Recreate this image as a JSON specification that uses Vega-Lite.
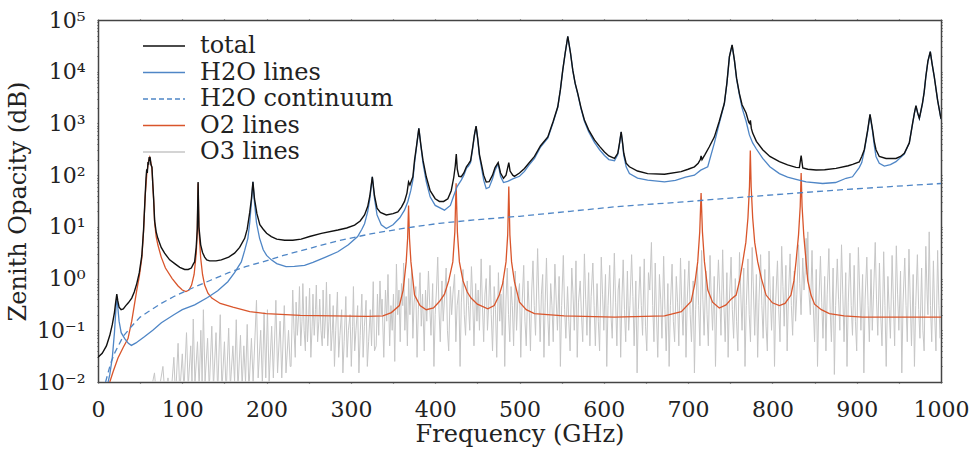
{
"$schema": "https://vega.github.io/schema/vega-lite/v6.json",
"width": 843, "height": 362,
"autosize": {"type": "none"},
"padding": {"left": 98, "top": 20, "right": 34, "bottom": 67},
"background": "white",
"config": {
  "font": "DejaVu Serif",
  "view": {"stroke": null},
  "axis": {"domainColor": "#444", "domainWidth": 1.5, "tickColor": "#444", "tickWidth": 1.2, "labelFont": "DejaVu Serif", "labelFontSize": 22, "labelColor": "#222", "titleFont": "DejaVu Serif", "titleFontSize": 24, "titleFontWeight": "normal", "titleColor": "#222", "grid": false, "zindex": 1}
},
"datasets": {
"o3": [
{"f":60,"v":0.004},{"f":67,"v":0.015},{"f":70,"v":0.004},{"f":77,"v":0.02},{"f":80,"v":0.004},{"f":83,"v":0.012},{"f":86,"v":0.004},{"f":90,"v":0.03},{"f":92,"v":0.005},{"f":95,"v":0.056},{"f":97,"v":0.006},{"f":100,"v":0.035},{"f":102,"v":0.007},{"f":105,"v":0.09},{"f":107,"v":0.008},{"f":110,"v":0.05},{"f":111.5,"v":0.01},{"f":113,"v":0.165},{"f":115,"v":0.009},{"f":118,"v":0.06},{"f":120,"v":0.008},{"f":122,"v":0.1},{"f":123.5,"v":0.01},{"f":125,"v":0.25},{"f":127,"v":0.01},{"f":130,"v":0.07},{"f":132,"v":0.007},{"f":135,"v":0.12},{"f":137,"v":0.008},{"f":140,"v":0.09},{"f":142,"v":0.006},{"f":145,"v":0.2},{"f":147,"v":0.007},{"f":150,"v":0.06},{"f":152,"v":0.006},{"f":155,"v":0.11},{"f":157,"v":0.008},{"f":160,"v":0.05},{"f":162,"v":0.01},{"f":164,"v":0.16},{"f":166,"v":0.007},{"f":169,"v":0.08},{"f":171,"v":0.008},{"f":173,"v":0.05},{"f":175,"v":0.01},{"f":177,"v":0.13},{"f":179,"v":0.007},{"f":182,"v":0.07},{"f":184,"v":0.01},{"f":188,"v":0.38},{"f":190,"v":0.012},{"f":193,"v":0.1},{"f":195,"v":0.009},{"f":197,"v":0.22},{"f":199,"v":0.012},{"f":201,"v":0.25},{"f":203,"v":0.01},{"f":206,"v":0.12},{"f":208,"v":0.012},{"f":211,"v":0.38},{"f":213,"v":0.015},{"f":216,"v":0.15},{"f":218,"v":0.012},{"f":221,"v":0.3},{"f":223,"v":0.015},{"f":226,"v":0.1},{"f":228,"v":0.02},
{"f":229,"v":0.02},{"f":231,"v":0.6},{"f":232.5,"v":0.1},{"f":234,"v":0.03},{"f":235,"v":0.35},{"f":236.5,"v":0.08},{"f":238,"v":0.2},{"f":239,"v":0.7},{"f":240.5,"v":0.05},{"f":242,"v":0.15},{"f":243,"v":0.8},{"f":244.5,"v":0.1},{"f":246,"v":0.04},{"f":247,"v":0.45},{"f":248.5,"v":0.06},{"f":250,"v":0.2},{"f":251,"v":0.65},{"f":252.5,"v":0.03},{"f":254,"v":0.12},{"f":255,"v":0.5},{"f":256.5,"v":0.08},{"f":258,"v":0.25},{"f":259,"v":0.75},{"f":260.5,"v":0.06},{"f":262,"v":0.15},{"f":263,"v":0.4},{"f":264.5,"v":0.1},{"f":266,"v":0.05},{"f":267,"v":0.6},{"f":268.5,"v":0.07},{"f":270,"v":0.2},{"f":271,"v":0.85},{"f":272.5,"v":0.05},{"f":274,"v":0.15},{"f":275,"v":0.5},{"f":276.5,"v":0.04},{"f":278,"v":0.1},{"f":279,"v":0.3},{"f":280.5,"v":0.02},{"f":282,"v":0.1},{"f":284,"v":0.55},{"f":285.5,"v":0.03},{"f":287,"v":0.08},{"f":289,"v":0.25},{"f":290.5,"v":0.015},{"f":292,"v":0.06},{"f":294,"v":0.45},{"f":295.5,"v":0.03},{"f":297,"v":0.1},{"f":299,"v":0.2},{"f":300.5,"v":0.02},{"f":302,"v":0.12},{"f":303,"v":0.7},{"f":304.5,"v":0.04},{"f":306,"v":0.1},{"f":308,"v":0.3},{"f":309.5,"v":0.015},{"f":311,"v":0.08},{"f":313,"v":0.5},{"f":314.5,"v":0.03},{"f":316,"v":0.12},{"f":318,"v":0.38},{"f":319.5,"v":0.02},{"f":321,"v":0.06},{"f":323,"v":0.25},{"f":324.5,"v":0.05},{"f":326.5,"v":0.87},{"f":328,"v":0.04},
{"f":330,"v":0.05},{"f":331.5,"v":0.5},{"f":333,"v":0.08},{"f":334.5,"v":0.9},{"f":336,"v":0.2},{"f":337,"v":0.4},{"f":339,"v":0.03},{"f":341,"v":0.6},{"f":342.5,"v":0.15},{"f":344,"v":1.2},{"f":346,"v":0.05},{"f":347.5,"v":0.3},{"f":349,"v":0.1},{"f":350.5,"v":0.5},{"f":352,"v":0.025},{"f":354,"v":1.9},{"f":355.5,"v":0.2},{"f":357,"v":0.6},{"f":358.5,"v":0.06},{"f":360,"v":0.8},{"f":361.5,"v":0.3},{"f":362.5,"v":2.0},{"f":364,"v":0.1},{"f":365.5,"v":0.45},{"f":367,"v":0.05},{"f":368.5,"v":1.0},{"f":370,"v":0.2},{"f":372,"v":1.5},{"f":373.5,"v":0.07},{"f":375,"v":0.35},{"f":377,"v":0.7},{"f":378.5,"v":0.03},{"f":380,"v":0.25},{"f":382,"v":1.3},{"f":383.5,"v":0.12},{"f":385,"v":0.5},{"f":387,"v":0.04},{"f":388.5,"v":0.6},{"f":390,"v":0.15},{"f":392,"v":1.4},{"f":393.5,"v":0.3},{"f":395,"v":0.08},{"f":397,"v":0.8},{"f":398.5,"v":0.02},{"f":400,"v":0.2},{"f":401.5,"v":0.6},{"f":403,"v":2.6},{"f":404.5,"v":0.25},{"f":406,"v":0.06},{"f":408,"v":0.9},{"f":409.5,"v":0.15},{"f":411,"v":0.4},{"f":413,"v":1.6},{"f":414.5,"v":0.1},{"f":416,"v":0.04},{"f":418,"v":0.7},{"f":419.5,"v":0.2},{"f":421,"v":0.5},{"f":423,"v":1.2},{"f":424.5,"v":0.06},{"f":426,"v":0.3},{"f":428,"v":0.6},{"f":429.5,"v":0.02},{"f":431,"v":0.35},{"f":433,"v":1.5},{"f":434.5,"v":0.2},{"f":436,"v":0.08},{"f":438,"v":0.9},{"f":439.5,"v":0.3},{"f":441,"v":0.1},{"f":443,"v":1.7},{"f":444.5,"v":0.4},{"f":446,"v":0.05},{"f":448,"v":0.8},{"f":449.5,"v":0.15},{"f":451,"v":0.6},{"f":452.5,"v":0.1},{"f":454.5,"v":2.4},{"f":456,"v":0.3},{"f":457.5,"v":0.06},{"f":459,"v":0.5},{"f":460.5,"v":1.0},{"f":462,"v":0.1},{"f":463.5,"v":0.3},{"f":465,"v":1.8},{"f":466.5,"v":0.2},{"f":468,"v":0.04},{"f":470,"v":0.7},{"f":471.5,"v":0.25},{"f":473,"v":0.03},{"f":475,"v":1.3},{"f":476.5,"v":0.15},{"f":478,"v":0.5},{"f":479.5,"v":0.08},{"f":481,"v":0.9},{"f":482.5,"v":0.02},{"f":484,"v":0.4},{"f":485.5,"v":1.6},{"f":487,"v":0.2},{"f":488.5,"v":0.06},{"f":490,"v":0.7},{"f":491.5,"v":0.3},{"f":493,"v":0.05},{"f":495,"v":1.4},{"f":496.5,"v":0.1},{"f":498,"v":0.4},{"f":500,"v":0.8},{"f":501.5,"v":0.03},
{"f":503,"v":0.3},{"f":505,"v":1.8},{"f":506.5,"v":0.15},{"f":508,"v":0.05},{"f":510,"v":0.9},{"f":511.5,"v":0.25},{"f":513,"v":0.04},{"f":514.5,"v":0.6},{"f":516,"v":2.2},{"f":517.5,"v":0.3},{"f":519,"v":0.08},{"f":521.5,"v":3.8},{"f":523,"v":0.4},{"f":524.5,"v":0.06},{"f":526,"v":0.5},{"f":527.5,"v":1.2},{"f":529,"v":0.03},{"f":530.5,"v":0.35},{"f":532,"v":2.5},{"f":533.5,"v":0.2},{"f":535,"v":0.05},{"f":537,"v":0.8},{"f":538.5,"v":0.3},{"f":540,"v":0.06},{"f":542,"v":1.9},{"f":543.5,"v":0.4},{"f":545,"v":0.1},{"f":547,"v":1.1},{"f":548.5,"v":0.02},{"f":550,"v":0.3},{"f":552,"v":2.8},{"f":553.5,"v":0.25},{"f":555,"v":0.07},{"f":557,"v":0.7},{"f":558.5,"v":0.15},{"f":560,"v":0.04},{"f":562,"v":1.6},{"f":563.5,"v":0.5},{"f":565,"v":0.1},{"f":567,"v":2.2},{"f":568.5,"v":0.03},{"f":570,"v":0.35},{"f":572,"v":0.9},{"f":573.5,"v":0.2},{"f":575,"v":0.06},{"f":577,"v":3.0},{"f":578.5,"v":0.4},{"f":580,"v":0.08},{"f":582,"v":1.3},{"f":583.5,"v":0.05},{"f":585,"v":0.45},{"f":587,"v":2.0},{"f":588.5,"v":0.3},{"f":590,"v":0.05},{"f":592,"v":0.8},{"f":593.5,"v":0.15},{"f":595,"v":0.04},{"f":597,"v":2.6},{"f":598.5,"v":0.5},{"f":600,"v":0.1},{"f":602,"v":1.2},{"f":603.5,"v":0.02},{"f":605,"v":0.3},{"f":607,"v":1.8},{"f":608.5,"v":0.2},{"f":610,"v":0.07},{"f":612.5,"v":3.1},{"f":614,"v":0.35},{"f":615.5,"v":0.05},{"f":617,"v":0.6},{"f":618.5,"v":1.0},{"f":620,"v":0.03},{"f":621.5,"v":0.4},{"f":623,"v":2.3},{"f":624.5,"v":0.25},{"f":626,"v":0.06},{"f":628,"v":1.4},{"f":629.5,"v":0.1},{"f":631,"v":0.3},{"f":633,"v":2.9},{"f":634.5,"v":0.45},{"f":636,"v":0.05},{"f":638,"v":0.9},{"f":639.5,"v":0.015},{"f":641,"v":0.25},{"f":643,"v":1.7},{"f":644.5,"v":0.3},{"f":646,"v":0.08},{"f":648,"v":2.4},{"f":649.5,"v":0.12},{"f":651,"v":0.04},{"f":653,"v":1.3},{"f":654.5,"v":0.6},{"f":656.5,"v":5.0},{"f":658,"v":0.3},{"f":659.5,"v":0.06},{"f":661,"v":2.0},{"f":662.5,"v":0.2},{"f":664,"v":0.03},{"f":666,"v":1.2},{"f":667.5,"v":0.4},{"f":669,"v":0.07},{"f":671,"v":2.7},{"f":672.5,"v":0.25},{"f":674,"v":0.04},{"f":676,"v":0.8},{"f":677.5,"v":0.02},{"f":679,"v":0.3},{"f":681,"v":1.9},{"f":682.5,"v":0.15},{"f":684,"v":0.06},{"f":686,"v":1.1},{"f":687.5,"v":0.35},{"f":689,"v":0.05},{"f":691,"v":2.5},{"f":692.5,"v":0.3},{"f":694,"v":0.08},{"f":696,"v":1.5},{"f":697.5,"v":0.03},{"f":699,"v":0.4},{"f":701,"v":2.2},{"f":702.5,"v":0.2},{"f":704,"v":0.06},{"f":706,"v":0.9},{"f":707.5,"v":0.015},{"f":709,"v":0.25},{"f":711,"v":1.7},{"f":712.5,"v":0.3},{"f":714,"v":0.05},{"f":716,"v":3.5},{"f":717.5,"v":0.4},{"f":719,"v":0.08},
{"f":721,"v":1.4},{"f":722.5,"v":0.2},{"f":724,"v":0.05},{"f":726,"v":2.8},{"f":727.5,"v":0.4},{"f":729,"v":0.1},{"f":731,"v":1.1},{"f":732.5,"v":0.02},{"f":734,"v":0.3},{"f":736,"v":2.3},{"f":737.5,"v":0.5},{"f":739,"v":0.08},{"f":741,"v":3.6},{"f":742.5,"v":0.3},{"f":744,"v":0.06},{"f":746,"v":1.3},{"f":747.5,"v":0.03},{"f":749,"v":0.4},{"f":751,"v":2.6},{"f":752.5,"v":0.25},{"f":754,"v":0.07},{"f":756,"v":1.0},{"f":757.5,"v":0.15},{"f":759,"v":0.04},{"f":761,"v":3.2},{"f":762.5,"v":0.5},{"f":764,"v":0.1},{"f":766,"v":1.6},{"f":767.5,"v":0.02},{"f":769,"v":0.3},{"f":771,"v":2.4},{"f":772.5,"v":0.2},{"f":774,"v":0.06},{"f":776,"v":4.0},{"f":777.5,"v":0.6},{"f":779,"v":0.08},{"f":781,"v":1.2},{"f":782.5,"v":0.03},{"f":784,"v":0.35},{"f":786,"v":2.9},{"f":787.5,"v":0.3},{"f":789,"v":0.07},{"f":791,"v":1.5},{"f":792.5,"v":0.12},{"f":794,"v":0.04},{"f":796,"v":3.4},{"f":797.5,"v":0.5},{"f":799,"v":0.1},{"f":801,"v":1.1},{"f":802.5,"v":0.02},{"f":804,"v":0.4},{"f":806,"v":2.2},{"f":807.5,"v":0.25},{"f":809,"v":0.06},{"f":811,"v":4.2},{"f":812.5,"v":0.7},{"f":814,"v":0.12},{"f":816,"v":1.8},{"f":817.5,"v":0.04},{"f":819,"v":0.45},{"f":821,"v":3.0},{"f":822.5,"v":0.3},{"f":824,"v":0.08},{"f":826,"v":1.4},{"f":827.5,"v":0.15},{"f":829,"v":0.5},{"f":831,"v":4.5},{"f":832.5,"v":0.8},{"f":834,"v":0.2},{"f":836,"v":2.5},{"f":837.5,"v":0.6},{"f":839,"v":1.5},{"f":840,"v":6.0},{"f":841,"v":1.2},{"f":842,"v":8.0},{"f":843.5,"v":0.5},{"f":845,"v":0.2},{"f":847,"v":3.5},{"f":848.5,"v":0.3},{"f":850,"v":0.06},{"f":852,"v":1.5},{"f":853.5,"v":0.02},{"f":855,"v":0.3},{"f":857,"v":2.7},{"f":858.5,"v":0.35},{"f":860,"v":0.07},{"f":862,"v":1.1},{"f":863.5,"v":0.04},{"f":865,"v":0.5},{"f":867,"v":3.8},{"f":868.5,"v":0.25},{"f":870,"v":0.06},{"f":872,"v":1.6},{"f":873.5,"v":0.014},{"f":875,"v":0.3},{"f":877,"v":2.4},{"f":878.5,"v":0.4},{"f":880,"v":0.1},{"f":882,"v":4.5},{"f":883.5,"v":0.5},{"f":885,"v":0.06},{"f":887,"v":1.3},{"f":888.5,"v":0.02},{"f":890,"v":0.35},{"f":892,"v":3.1},{"f":893.5,"v":0.3},{"f":895,"v":0.08},{"f":897,"v":1.8},{"f":898.5,"v":0.15},{"f":900,"v":0.04},{"f":902,"v":4.0},{"f":903.5,"v":0.6},{"f":905,"v":0.1},{"f":907,"v":1.2},{"f":908.5,"v":0.015},{"f":910,"v":0.4},{"f":912,"v":2.6},{"f":913.5,"v":0.3},{"f":915,"v":0.06},{"f":917,"v":1.5},{"f":918.5,"v":0.1},{"f":920,"v":0.5},{"f":922,"v":5.0},{"f":923.5,"v":0.4},{"f":925,"v":0.08},{"f":927,"v":2.0},{"f":928.5,"v":0.2},{"f":930,"v":0.05},{"f":932,"v":3.3},{"f":933.5,"v":0.3},{"f":935,"v":0.02},{"f":937,"v":1.1},{"f":938.5,"v":0.25},{"f":940,"v":0.07},{"f":942,"v":2.8},{"f":943.5,"v":0.4},{"f":945,"v":0.05},{"f":947,"v":4.3},{"f":948.5,"v":0.5},{"f":950,"v":0.1},{"f":952,"v":1.4},{"f":953.5,"v":0.015},{"f":955,"v":0.35},{"f":957,"v":2.5},{"f":958.5,"v":0.3},{"f":960,"v":0.06},{"f":962,"v":3.7},{"f":963.5,"v":0.4},{"f":965,"v":0.05},{"f":967,"v":1.2},{"f":968.5,"v":0.02},{"f":970,"v":0.3},{"f":972,"v":2.9},{"f":973.5,"v":0.25},{"f":975,"v":0.07},{"f":977,"v":1.6},{"f":978.5,"v":0.1},{"f":980,"v":0.04},{"f":982,"v":4.2},{"f":983.5,"v":0.5},{"f":984.5,"v":0.2},{"f":986,"v":8.0},{"f":987.5,"v":0.3},{"f":989,"v":0.06},{"f":991,"v":2.2},{"f":992.5,"v":0.2},{"f":994,"v":0.04},{"f":996,"v":3.5},{"f":997.5,"v":0.3},{"f":999,"v":0.07},{"f":1000,"v":0.5}
],
"o2": [
{"f":10,"v":0.006},{"f":14,"v":0.01},{"f":18,"v":0.016},{"f":23.7,"v":0.029},{"f":30,"v":0.047},{"f":35.6,"v":0.069},{"f":40,"v":0.15},{"f":43,"v":0.3},{"f":46,"v":0.6},{"f":49,"v":1.1},{"f":52,"v":2.5},{"f":54,"v":8},{"f":56,"v":40},{"f":58,"v":110},{"f":60,"v":190},{"f":61.3,"v":220},{"f":62.5,"v":180},{"f":64,"v":135},{"f":65,"v":65},{"f":66,"v":33},{"f":67.2,"v":12},{"f":69,"v":6.5},{"f":71,"v":4.5},{"f":75,"v":2.6},{"f":80,"v":1.6},{"f":88,"v":1.0},{"f":95,"v":0.72},{"f":100,"v":0.6},{"f":104.3,"v":0.56},{"f":108,"v":0.6},{"f":111,"v":0.75},{"f":114,"v":1.2},{"f":116.5,"v":3},{"f":117.8,"v":8.5},{"f":118.75,"v":70},{"f":119.7,"v":9},{"f":121.8,"v":2.5},{"f":124,"v":1.2},{"f":126.5,"v":0.75},{"f":130.4,"v":0.52},{"f":135,"v":0.42},{"f":145,"v":0.33},{"f":160,"v":0.28},{"f":180,"v":0.23},{"f":199.6,"v":0.21},{"f":240,"v":0.195},{"f":278.6,"v":0.19},{"f":320,"v":0.185},{"f":338,"v":0.19},{"f":348,"v":0.22},{"f":357.5,"v":0.3},{"f":362,"v":0.6},{"f":365.6,"v":2.1},{"f":367.3,"v":6},{"f":368.4,"v":26},{"f":369.5,"v":6},{"f":371.2,"v":2.1},{"f":375.5,"v":0.48},{"f":382,"v":0.3},{"f":389.4,"v":0.25},{"f":398,"v":0.27},{"f":405,"v":0.36},{"f":411,"v":0.5},{"f":416,"v":0.9},{"f":420.9,"v":2.1},{"f":423.3,"v":8},{"f":424.8,"v":70},{"f":426.3,"v":8},{"f":428.7,"v":2.1},{"f":433,"v":0.9},{"f":438,"v":0.55},{"f":442.5,"v":0.42},{"f":450,"v":0.32},{"f":462.4,"v":0.26},{"f":470,"v":0.3},{"f":476,"v":0.48},{"f":480,"v":0.8},{"f":484,"v":2.1},{"f":486,"v":7},{"f":487.3,"v":60},{"f":488.6,"v":7},{"f":490.6,"v":2.1},{"f":494,"v":0.87},{"f":500,"v":0.35},{"f":508,"v":0.25},{"f":517.7,"v":0.21},{"f":553,"v":0.19},{"f":612.6,"v":0.18},{"f":672,"v":0.19},{"f":692,"v":0.23},{"f":703.5,"v":0.36},{"f":708,"v":0.8},{"f":711.4,"v":2.1},{"f":713.8,"v":8},{"f":715.4,"v":45},{"f":717,"v":8},{"f":719.4,"v":2.1},{"f":723.4,"v":0.6},{"f":729,"v":0.35},{"f":737,"v":0.27},{"f":745,"v":0.31},{"f":751,"v":0.4},{"f":757,"v":0.48},{"f":761,"v":0.9},{"f":764.8,"v":2.1},{"f":768.5,"v":5},{"f":771,"v":15},{"f":772.8,"v":60},{"f":773.8,"v":300},{"f":774.8,"v":60},{"f":776.6,"v":15},{"f":779,"v":5},{"f":782.6,"v":2.1},{"f":787,"v":1.0},{"f":792.5,"v":0.48},{"f":800,"v":0.34},{"f":808.3,"v":0.3},{"f":815,"v":0.33},{"f":822,"v":0.48},{"f":825.5,"v":0.9},{"f":828,"v":2.1},{"f":831,"v":7},{"f":833,"v":25},{"f":834.1,"v":110},{"f":835.2,"v":25},{"f":837.2,"v":7},{"f":840,"v":2.1},{"f":842,"v":0.9},{"f":845.8,"v":0.48},{"f":850,"v":0.32},{"f":858,"v":0.25},{"f":867.6,"v":0.21},{"f":885,"v":0.19},{"f":907,"v":0.18},{"f":1000,"v":0.18}
],
"cont": [
{"f":9,"v":0.01},{"f":15,"v":0.023},{"f":20,"v":0.037},{"f":30,"v":0.077},{"f":40,"v":0.12},{"f":50,"v":0.18},{"f":60,"v":0.23},{"f":75,"v":0.33},{"f":90,"v":0.45},{"f":115,"v":0.69},{"f":135,"v":0.95},{"f":155,"v":1.3},{"f":175,"v":1.7},{"f":195,"v":2.1},{"f":220,"v":2.8},{"f":250,"v":3.8},{"f":285,"v":5.4},{"f":325,"v":7.4},{"f":365,"v":9.5},{"f":405,"v":11.7},{"f":450,"v":13.8},{"f":500,"v":16},{"f":560,"v":20},{"f":620,"v":25},{"f":690,"v":30},{"f":750,"v":36},{"f":820,"v":44},{"f":880,"v":52},{"f":940,"v":60},{"f":1000,"v":69}
],
"h2o": [
{"f":5,"v":0.004},{"f":10,"v":0.007},{"f":14,"v":0.014},{"f":17,"v":0.03},{"f":19.5,"v":0.09},{"f":21,"v":0.22},{"f":22.3,"v":0.45},{"f":23.5,"v":0.28},{"f":25,"v":0.15},{"f":27.5,"v":0.09},{"f":31.7,"v":0.069},{"f":36,"v":0.056},{"f":39.6,"v":0.051},{"f":45,"v":0.057},{"f":55,"v":0.075},{"f":65,"v":0.1},{"f":75.2,"v":0.14},{"f":90,"v":0.2},{"f":100,"v":0.25},{"f":114.7,"v":0.31},{"f":130,"v":0.43},{"f":142,"v":0.58},{"f":154,"v":0.87},{"f":162,"v":1.3},{"f":170,"v":2.1},{"f":174,"v":3.5},{"f":177.8,"v":6},{"f":180,"v":12},{"f":182,"v":30},{"f":183.8,"v":74},{"f":185.6,"v":30},{"f":188,"v":12},{"f":191.7,"v":6},{"f":196,"v":3.6},{"f":200,"v":2.8},{"f":205.6,"v":2.3},{"f":212,"v":1.95},{"f":223,"v":1.7},{"f":233,"v":1.72},{"f":245,"v":1.8},{"f":255,"v":2.05},{"f":270,"v":2.6},{"f":284.5,"v":3.3},{"f":297,"v":4.5},{"f":308,"v":6.5},{"f":313,"v":9},{"f":316.2,"v":11.5},{"f":320,"v":20},{"f":322.5,"v":35},{"f":325.4,"v":93},{"f":328,"v":35},{"f":331,"v":17},{"f":336,"v":11},{"f":342,"v":9.3},{"f":350,"v":11},{"f":358,"v":15},{"f":363.6,"v":21},{"f":367.6,"v":31},{"f":371,"v":50},{"f":373.5,"v":80},{"f":375.5,"v":170},{"f":378,"v":370},{"f":380.6,"v":800},{"f":383,"v":370},{"f":385.5,"v":170},{"f":389.4,"v":75},{"f":394,"v":38},{"f":400,"v":26},{"f":411,"v":21},{"f":418,"v":26},{"f":422,"v":40},{"f":426,"v":60},{"f":430.9,"v":80},{"f":434,"v":100},{"f":437,"v":135},{"f":439.5,"v":150},{"f":442,"v":175},{"f":444.5,"v":330},{"f":446.5,"v":580},{"f":448.5,"v":880},{"f":450.5,"v":480},{"f":452.5,"v":230},{"f":454.6,"v":150},{"f":457.5,"v":80},{"f":460.5,"v":55},{"f":464,"v":58},{"f":468,"v":85},{"f":471,"v":125},{"f":474.7,"v":165},{"f":477.5,"v":95},{"f":481,"v":72},{"f":486,"v":76},{"f":492,"v":85},{"f":500,"v":95},{"f":505.9,"v":118},{"f":511,"v":155},{"f":517.8,"v":210},{"f":525,"v":350},{"f":533.6,"v":520},{"f":540,"v":1050},{"f":545.4,"v":2050},{"f":548.5,"v":4450},{"f":551.3,"v":10600},{"f":554.2,"v":22800},{"f":557.3,"v":47500},{"f":560.5,"v":22800},{"f":563.2,"v":10600},{"f":566,"v":5900},{"f":569.1,"v":3700},{"f":573,"v":1920},{"f":577,"v":1100},{"f":582,"v":690},{"f":588.9,"v":430},{"f":595,"v":310},{"f":600.8,"v":240},{"f":606,"v":200},{"f":612.7,"v":190},{"f":616.6,"v":250},{"f":618.7,"v":410},{"f":620.6,"v":680},{"f":622.3,"v":400},{"f":623.7,"v":240},{"f":626.5,"v":145},{"f":630.4,"v":107},{"f":640,"v":88},{"f":652,"v":80},{"f":672,"v":74},{"f":685,"v":79},{"f":697,"v":92},{"f":707.5,"v":100},{"f":715,"v":125},{"f":723.3,"v":145},{"f":731.2,"v":420},{"f":737,"v":1000},{"f":743,"v":2400},{"f":746,"v":5900},{"f":749,"v":19300},{"f":752.2,"v":32800},{"f":754.9,"v":16800},{"f":757.5,"v":7300},{"f":760.8,"v":3600},{"f":764,"v":2000},{"f":768.8,"v":1100},{"f":772.7,"v":600},{"f":776.6,"v":420},{"f":781,"v":320},{"f":788.5,"v":210},{"f":797,"v":145},{"f":808.3,"v":107},{"f":818,"v":92},{"f":828,"v":83},{"f":840,"v":74},{"f":859.6,"v":69},{"f":875,"v":72},{"f":887.4,"v":87},{"f":895,"v":93},{"f":903,"v":140},{"f":906,"v":175},{"f":909,"v":290},{"f":913,"v":700},{"f":915.8,"v":1480},{"f":918.9,"v":680},{"f":920.8,"v":380},{"f":922.9,"v":230},{"f":926.8,"v":170},{"f":932.8,"v":150},{"f":940,"v":160},{"f":946.6,"v":182},{"f":952,"v":220},{"f":956.5,"v":255},{"f":962.4,"v":420},{"f":966.3,"v":990},{"f":968.5,"v":1590},{"f":970.3,"v":2190},{"f":972.3,"v":1580},{"f":974.3,"v":1240},{"f":976,"v":1680},{"f":978,"v":2430},{"f":980,"v":3980},{"f":982,"v":7980},{"f":984.5,"v":15980},{"f":987.3,"v":24480},{"f":989.5,"v":13980},{"f":992,"v":7980},{"f":996,"v":2780},{"f":1000,"v":1210}
],
"total": [
{"f":0,"v":0.03},{"f":5,"v":0.036},{"f":10,"v":0.05},{"f":14,"v":0.08},{"f":17,"v":0.13},{"f":19.5,"v":0.22},{"f":21,"v":0.35},{"f":22.3,"v":0.5},{"f":23.5,"v":0.37},{"f":25,"v":0.28},{"f":27.4,"v":0.25},{"f":30,"v":0.26},{"f":33,"v":0.3},{"f":36,"v":0.34},{"f":40,"v":0.42},{"f":43,"v":0.55},{"f":46,"v":0.8},{"f":49,"v":1.3},{"f":52,"v":2.8},{"f":54,"v":8.5},{"f":56,"v":42},{"f":57,"v":90},{"f":57.8,"v":130},{"f":58.5,"v":110},{"f":59.3,"v":180},{"f":60,"v":160},{"f":60.7,"v":225},{"f":61.3,"v":200},{"f":62,"v":210},{"f":62.8,"v":160},{"f":64,"v":142},{"f":65,"v":68},{"f":66,"v":35},{"f":67.2,"v":13},{"f":69,"v":8},{"f":71,"v":6},{"f":75,"v":4},{"f":79,"v":3.1},{"f":85,"v":2.3},{"f":91,"v":1.95},{"f":97,"v":1.65},{"f":102.8,"v":1.5},{"f":107,"v":1.5},{"f":110.7,"v":1.6},{"f":113,"v":1.9},{"f":114.6,"v":2.1},{"f":116.5,"v":4},{"f":117.8,"v":9.3},{"f":118.75,"v":74},{"f":119.7,"v":10},{"f":121.8,"v":4.5},{"f":124,"v":3.2},{"f":126.5,"v":2.6},{"f":129,"v":2.3},{"f":132.4,"v":2.2},{"f":140,"v":2.2},{"f":146.3,"v":2.3},{"f":155,"v":2.6},{"f":162,"v":3.1},{"f":168,"v":4},{"f":174,"v":6},{"f":177,"v":9},{"f":180,"v":19},{"f":182,"v":35},{"f":183.8,"v":74},{"f":185.6,"v":35},{"f":188.5,"v":18},{"f":192,"v":11},{"f":196,"v":9},{"f":200,"v":7.5},{"f":205.6,"v":6.5},{"f":212,"v":5.8},{"f":221.4,"v":5.5},{"f":231,"v":5.5},{"f":241,"v":5.8},{"f":251,"v":6.5},{"f":265,"v":7.5},{"f":284.6,"v":8.7},{"f":295,"v":9.5},{"f":304.4,"v":10.8},{"f":311,"v":13},{"f":316.2,"v":17},{"f":320,"v":25},{"f":322.5,"v":40},{"f":325.4,"v":93},{"f":328,"v":40},{"f":331,"v":23},{"f":335,"v":19},{"f":342,"v":17},{"f":350,"v":18},{"f":355.7,"v":19.5},{"f":360,"v":24},{"f":363.6,"v":31},{"f":366.5,"v":45},{"f":368.4,"v":74},{"f":370,"v":65},{"f":373.5,"v":93},{"f":375.5,"v":195},{"f":378,"v":380},{"f":380.6,"v":800},{"f":383,"v":380},{"f":385.5,"v":195},{"f":389.4,"v":93},{"f":394,"v":50},{"f":400,"v":35},{"f":405,"v":31},{"f":410,"v":31},{"f":415,"v":35},{"f":419,"v":50},{"f":422,"v":90},{"f":423.8,"v":150},{"f":425,"v":255},{"f":426.2,"v":130},{"f":428,"v":95},{"f":430.9,"v":93},{"f":434,"v":110},{"f":437,"v":145},{"f":439.5,"v":165},{"f":442,"v":190},{"f":444.5,"v":350},{"f":446.5,"v":600},{"f":448.5,"v":890},{"f":450.5,"v":500},{"f":452.5,"v":250},{"f":454.6,"v":170},{"f":457.5,"v":100},{"f":460.5,"v":74},{"f":464,"v":75},{"f":468,"v":100},{"f":471,"v":140},{"f":474.7,"v":175},{"f":477.5,"v":110},{"f":481,"v":87},{"f":484,"v":100},{"f":486,"v":140},{"f":487.3,"v":175},{"f":488.8,"v":120},{"f":492,"v":100},{"f":494,"v":95},{"f":500,"v":110},{"f":505.9,"v":135},{"f":511,"v":170},{"f":517.8,"v":230},{"f":525,"v":370},{"f":533.6,"v":550},{"f":540,"v":1100},{"f":545.4,"v":2100},{"f":548.5,"v":4500},{"f":551.3,"v":10700},{"f":554.2,"v":23000},{"f":557.3,"v":48000},{"f":560.5,"v":23000},{"f":563.2,"v":10700},{"f":566,"v":6000},{"f":569.1,"v":3800},{"f":573,"v":2000},{"f":577,"v":1170},{"f":582,"v":750},{"f":588.9,"v":480},{"f":595,"v":360},{"f":600.8,"v":280},{"f":606,"v":235},{"f":612.7,"v":210},{"f":616.6,"v":265},{"f":618.7,"v":420},{"f":620.6,"v":690},{"f":622.3,"v":420},{"f":623.7,"v":265},{"f":626.5,"v":170},{"f":630.4,"v":145},{"f":640,"v":120},{"f":652,"v":107},{"f":672,"v":104},{"f":691.7,"v":117},{"f":700,"v":130},{"f":707.5,"v":145},{"f":712,"v":170},{"f":714.5,"v":200},{"f":715.4,"v":235},{"f":716.5,"v":200},{"f":720,"v":250},{"f":725,"v":350},{"f":731.2,"v":550},{"f":737,"v":1100},{"f":743,"v":2450},{"f":746,"v":6000},{"f":749,"v":19500},{"f":752.2,"v":33000},{"f":754.9,"v":17000},{"f":757.5,"v":7500},{"f":760.8,"v":3800},{"f":764,"v":2300},{"f":768.8,"v":1590},{"f":772,"v":1050},{"f":773,"v":1000},{"f":773.9,"v":1150},{"f":775,"v":800},{"f":776.6,"v":650},{"f":781,"v":450},{"f":788.5,"v":310},{"f":797,"v":230},{"f":808.3,"v":182},{"f":818,"v":158},{"f":828,"v":141},{"f":832,"v":140},{"f":834.1,"v":240},{"f":836,"v":138},{"f":842,"v":130},{"f":851.8,"v":126},{"f":862,"v":127},{"f":875.5,"v":135},{"f":890,"v":152},{"f":895.2,"v":162},{"f":903,"v":180},{"f":906,"v":230},{"f":909,"v":310},{"f":913,"v":740},{"f":915.8,"v":1500},{"f":918.9,"v":740},{"f":920.8,"v":450},{"f":922.9,"v":310},{"f":926.8,"v":230},{"f":934.8,"v":210},{"f":946.6,"v":210},{"f":952,"v":230},{"f":956.5,"v":265},{"f":962.4,"v":420},{"f":966.3,"v":1000},{"f":968.5,"v":1600},{"f":970.3,"v":2200},{"f":972.3,"v":1600},{"f":974.3,"v":1260},{"f":976,"v":1700},{"f":978,"v":2450},{"f":980,"v":4000},{"f":982,"v":8000},{"f":984.5,"v":16000},{"f":987.3,"v":24500},{"f":989.5,"v":14000},{"f":992,"v":8000},{"f":996,"v":2800},{"f":1000,"v":1230}
]
},
"layer": [
{
  "data": {"name": "o3"},
  "mark": {"type": "line", "clip": true, "strokeWidth": 1},
  "encoding": {
    "x": {"field": "f", "type": "quantitative", "scale": {"domain": [0, 1000], "nice": false, "zero": false},
      "axis": {"orient": "bottom", "title": "Frequency (GHz)", "values": [0,50,100,150,200,250,300,350,400,450,500,550,600,650,700,750,800,850,900,950,1000], "labelExpr": "datum.value % 100 === 0 ? datum.label : ''", "format": "d", "tickSize": 1, "labelPadding": 16, "titlePadding": 2, "labelFlush": false, "labelOverlap": false,
        "encode": {"ticks": {"update": {"y2": {"value": -8}}}}}},
    "y": {"field": "v", "type": "quantitative", "scale": {"type": "log", "domain": [0.01, 100000], "nice": false},
      "axis": {"orient": "left", "title": "Zenith Opacity (dB)", "titlePadding": 6,
        "values": [0.01,0.02,0.03,0.04,0.05,0.06,0.07,0.08,0.09,0.1,0.2,0.3,0.4,0.5,0.6,0.7,0.8,0.9,1,2,3,4,5,6,7,8,9,10,20,30,40,50,60,70,80,90,100,200,300,400,500,600,700,800,900,1000,2000,3000,4000,5000,6000,7000,8000,9000,10000,20000,30000,40000,50000,60000,70000,80000,90000,100000],
        "labelExpr": "abs(log(datum.value)/LN10 - round(log(datum.value)/LN10)) < 0.001 ? ['10⁻²','10⁻¹','10⁰','10¹','10²','10³','10⁴','10⁵'][round(log(datum.value)/LN10)+2] : ''",
        "tickSize": 1, "labelPadding": 12, "labelFlush": false, "labelOverlap": false,
        "encode": {"ticks": {"update": {"x2": {"signal": "abs(log(datum.value)/LN10 - round(log(datum.value)/LN10)) < 0.001 ? 10 : 5"}}}}}},
    "color": {"datum": "O3 lines", "type": "nominal",
      "scale": {"domain": ["total", "H2O lines", "H2O continuum", "O2 lines", "O3 lines"], "range": ["#111111", "#4f86c6", "#4f86c6", "#d9552b", "#c6c6c6"]},
      "legend": {"orient": "none", "legendX": 54, "legendY": 14, "title": null, "symbolType": "M-3,0L3,0", "symbolSize": 196, "symbolStrokeWidth": 1.5, "labelFont": "DejaVu Serif", "labelFontSize": 24, "labelColor": "#222", "labelOffset": 24, "rowPadding": 2.5, "padding": 0, "labelLimit": 400,
        "encode": {"symbols": {"update": {"strokeDash": {"signal": "datum.value === 'H2O continuum' ? [5,3] : [1,0]"}}}}}}
  }
},
{
  "data": {"name": "o2"},
  "mark": {"type": "line", "clip": true, "strokeWidth": 1.3},
  "encoding": {
    "x": {"field": "f", "type": "quantitative", "axis": {"orient": "top", "title": null, "labels": false, "values": [0,50,100,150,200,250,300,350,400,450,500,550,600,650,700,750,800,850,900,950,1000], "tickSize": 1,
        "encode": {"ticks": {"update": {"y2": {"value": 8}}}}}},
    "y": {"field": "v", "type": "quantitative", "axis": {"orient": "right", "title": null, "labels": false,
        "values": [0.01,0.02,0.03,0.04,0.05,0.06,0.07,0.08,0.09,0.1,0.2,0.3,0.4,0.5,0.6,0.7,0.8,0.9,1,2,3,4,5,6,7,8,9,10,20,30,40,50,60,70,80,90,100,200,300,400,500,600,700,800,900,1000,2000,3000,4000,5000,6000,7000,8000,9000,10000,20000,30000,40000,50000,60000,70000,80000,90000,100000],
        "tickSize": 1,
        "encode": {"ticks": {"update": {"x2": {"signal": "abs(log(datum.value)/LN10 - round(log(datum.value)/LN10)) < 0.001 ? -10 : -5"}}}}}},
    "color": {"datum": "O2 lines", "type": "nominal"}
  }
},
{
  "data": {"name": "cont"},
  "mark": {"type": "line", "clip": true, "strokeWidth": 1.3, "strokeDash": [6, 4]},
  "encoding": {
    "x": {"field": "f", "type": "quantitative", "axis": null},
    "y": {"field": "v", "type": "quantitative", "axis": null},
    "color": {"datum": "H2O continuum", "type": "nominal"}
  }
},
{
  "data": {"name": "h2o"},
  "mark": {"type": "line", "clip": true, "strokeWidth": 1.3},
  "encoding": {
    "x": {"field": "f", "type": "quantitative", "axis": null},
    "y": {"field": "v", "type": "quantitative", "axis": null},
    "color": {"datum": "H2O lines", "type": "nominal"}
  }
},
{
  "data": {"name": "total"},
  "mark": {"type": "line", "clip": true, "strokeWidth": 1.4},
  "encoding": {
    "x": {"field": "f", "type": "quantitative", "axis": null},
    "y": {"field": "v", "type": "quantitative", "axis": null},
    "color": {"datum": "total", "type": "nominal"}
  }
}
],
"resolve": {"axis": {"x": "independent", "y": "independent"}}
}
